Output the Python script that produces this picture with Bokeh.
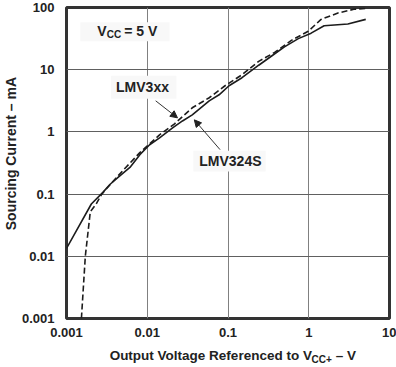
import numpy as np
from bokeh.plotting import figure
from bokeh.models import (Label, Arrow, NormalHead, CustomJSTickFormatter, LogAxis,
                          FixedTicker, BoxAnnotation)
from bokeh.embed import file_html
from bokeh.resources import INLINE

# ---- data ----
v_lmv324s = [0.001, 0.00203, 0.00284, 0.00347, 0.00435, 0.0061, 0.0081, 0.0107, 0.0142,
             0.0206, 0.0273, 0.0361, 0.0585, 0.0776, 0.103, 0.149, 0.24, 0.347, 0.5,
             0.743, 1.07, 1.55, 3.05, 5.08]
i_lmv324s = [0.0134, 0.0693, 0.1076, 0.144, 0.186, 0.268, 0.431, 0.622, 0.803,
             1.16, 1.50, 1.88, 3.16, 3.95, 5.52, 7.43, 11.8, 16.6, 23.3,
             31.6, 38.7, 50.8, 54.3, 64.4]

v_lmv3xx = [0.00153, 0.00171, 0.00197, 0.00233, 0.00269, 0.00301, 0.0050, 0.0081, 0.0142,
            0.0218, 0.0361, 0.0585, 0.0919, 0.149, 0.24, 0.378, 0.61, 0.986,
            1.42, 2.30, 3.61, 5.08]
i_lmv3xx = [0.001, 0.01, 0.0518, 0.0693, 0.0964, 0.1157, 0.240, 0.464, 0.896,
            1.35, 2.44, 3.54, 5.52, 8.3, 13.6, 19.0, 29.6, 41.5,
            64.4, 81.6, 93.5, 96.7]

x_ticks = [0.001, 0.01, 0.1, 1, 10]
x_tick_labels = ["0.001", "0.01", "0.1", "1", "10"]
y_ticks = [0.001, 0.01, 0.1, 1, 10, 100]
y_tick_labels = ["0.001", "0.01", "0.1", "1", "10", "100"]

x_title_parts = ["Output Voltage Referenced to V", "– V"]
x_title_sub = ["CC+"]
y_title = ["Sourcing Current – mA"]

FONT = "Liberation Sans"
INK = "#222222"
BOXFILL = "#f8f8f8"

# helpers: reference-pixel position -> data coordinates (for annotation placement)
GRID_PY = [4, 72, 134, 197, 260, 318]
GRID_LOG = [2, 1, 0, -1, -2, -3]


def rx(px_):
    return 10 ** (-3 + (px_ - 63) / 81.5)


def ry(py):
    return 10 ** float(np.interp(py, GRID_PY, GRID_LOG))


FMT_CODE = ("for (let i = 0; i < tv.length; i++) { if (Math.abs(Math.log10(tv[i]) - "
            "Math.log10(tick)) < 1e-6) return tl[i]; } return '';")

p = figure(width=396, height=367, x_axis_type="log", y_axis_type="log",
           x_range=(0.001, 10), y_range=(0.001, 100),
           output_backend="svg", toolbar_location=None,
           min_border_left=63, min_border_right=7, min_border_top=7, min_border_bottom=49)

p.background_fill_color = "white"
p.border_fill_color = "white"
p.outline_line_color = "#333333"
p.outline_line_width = 3
p.outline_line_alpha = 1.0

p.xaxis.ticker = x_ticks
p.yaxis.ticker = y_ticks
p.xaxis.formatter = CustomJSTickFormatter(args=dict(tv=x_ticks, tl=x_tick_labels), code=FMT_CODE)
p.yaxis.formatter = CustomJSTickFormatter(args=dict(tv=y_ticks, tl=y_tick_labels), code=FMT_CODE)

for ax in (p.xaxis, p.yaxis):
    ax.axis_line_color = None
    ax.major_tick_line_color = None
    ax.minor_tick_line_color = None
    ax.major_tick_out = 0
    ax.major_tick_in = 0
    ax.major_label_text_font = FONT
    ax.major_label_text_font_size = "13px"
    ax.major_label_text_font_style = "bold"
    ax.major_label_text_color = INK
p.xaxis.major_label_standoff = 9
p.yaxis.major_label_standoff = 12

p.xgrid.grid_line_color = "#808080"
p.ygrid.grid_line_color = "#606060"
p.xgrid.grid_line_width = 1
p.ygrid.grid_line_width = 1

p.line(v_lmv324s, i_lmv324s, line_color="#1c1c1c", line_width=1.6)
p.line(v_lmv3xx, i_lmv3xx, line_color="#1c1c1c", line_width=1.6, line_dash="6 3")


def box(x0, x1, y0, y1):
    p.add_layout(BoxAnnotation(left=rx(x0), right=rx(x1), top=ry(y0), bottom=ry(y1),
                               fill_color=BOXFILL, fill_alpha=1.0, line_color=None))


def lab(x, y, text, size, **kw):
    p.add_layout(Label(x=x, y=y, text=text, text_font=FONT, text_font_size=size,
                       text_font_style="bold", text_color=INK,
                       text_baseline=kw.pop("baseline", "middle"),
                       text_align=kw.pop("align", "left"), **kw))


# light backing boxes behind the in-plot texts
box(77, 167, 20, 41)
box(108, 174, 78, 101)
box(191, 264, 153, 174)

# V_CC = 5 V
lab(rx(94), ry(30), "V", "14px")
lab(rx(94), ry(30), "CC", "10px", x_offset=9.5, y_offset=-3)
lab(rx(94), ry(30), "= 5 V", "14px", x_offset=27)

# series annotations
lab(rx(113), ry(89), "LMV3xx", "14px")
lab(rx(197), ry(163), "LMV324S", "14px")

head = dict(size=7, fill_color=INK, line_color=INK)
p.add_layout(Arrow(end=NormalHead(**head), x_start=rx(153), y_start=ry(103),
                   x_end=rx(175), y_end=ry(120), line_color="#333333", line_width=1))
p.add_layout(Arrow(end=NormalHead(**head), x_start=rx(218), y_start=ry(152),
                   x_end=rx(192), y_end=ry(122), line_color="#333333", line_width=1))


def plain_axis(ax, texts, tv, size, standoff):
    ax.ticker = FixedTicker(ticks=tv, minor_ticks=[])
    ax.formatter = CustomJSTickFormatter(args=dict(tv=tv, tl=texts), code=FMT_CODE)
    ax.major_label_text_font = FONT
    ax.major_label_text_font_size = size
    ax.major_label_text_font_style = "bold"
    ax.major_label_text_color = INK
    ax.major_label_standoff = standoff
    ax.axis_line_color = None
    ax.major_tick_line_color = None
    ax.minor_tick_line_color = None
    ax.major_tick_out = 0
    ax.major_tick_in = 0
    ax.minor_tick_out = 0
    ax.minor_tick_in = 0
    return ax


# x axis title pieces (with subscript), drawn as tick labels of extra line-less axes
p.add_layout(plain_axis(LogAxis(), x_title_parts, [rx(208.6), rx(344.9)], "13.5px", 8), "below")
p.add_layout(plain_axis(LogAxis(), x_title_sub, [rx(320.6)], "10px", -12), "below")

# y axis title, centred where the reference has it
yt = plain_axis(LogAxis(), y_title, [ry(156)], "14px", -1)
yt.major_label_orientation = "vertical"
p.add_layout(yt, "left")

open("out.html", "w").write(file_html(p, INLINE))
